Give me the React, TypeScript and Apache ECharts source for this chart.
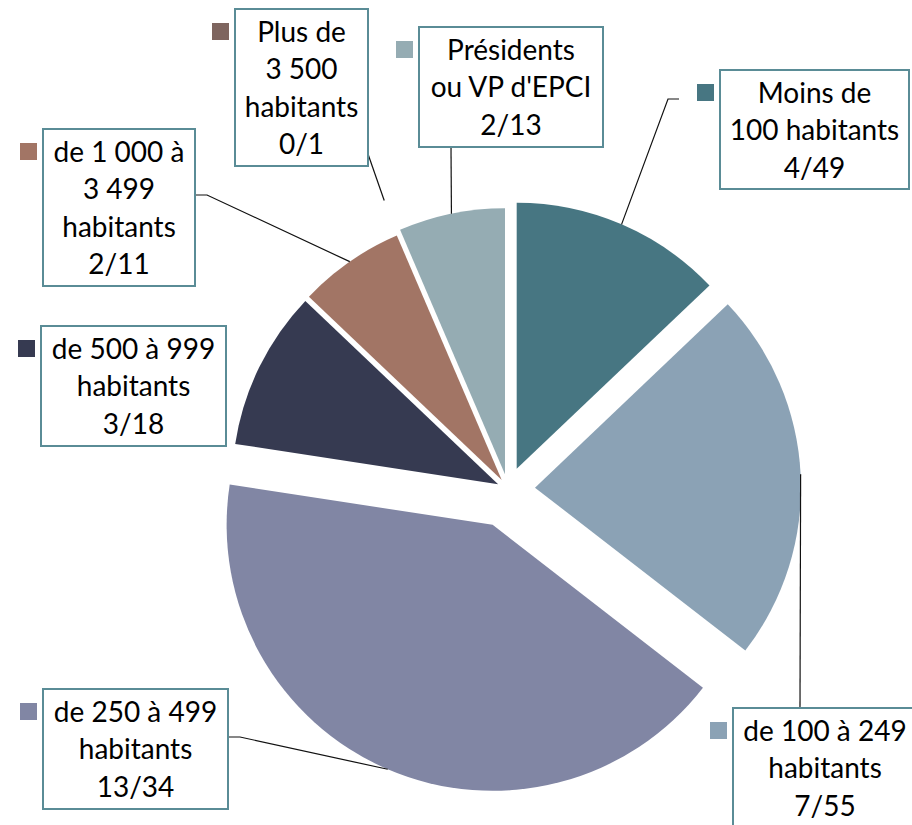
import React, { useEffect, useRef } from "react";
import * as echarts from "echarts";

// ---- data (clockwise from 12 o'clock) ----
const categories = [
  "Moins de\n100 habitants",
  "de 100 à 249\nhabitants",
  "de 250 à 499\nhabitants",
  "de 500 à 999\nhabitants",
  "de 1 000 à\n3 499\nhabitants",
  "Plus de\n3 500\nhabitants",
  "Présidents\nou VP d'EPCI",
];
const elected = [4, 7, 13, 3, 2, 0, 2];
const candidates = [49, 55, 34, 18, 11, 1, 13];

// ---- styles / layout ----
const colors = ["#477682", "#8BA2B5", "#8186A4", "#363A51", "#A27565", "#7E655F", "#95ACB3"];
const explode = [22, 27, 39, 11, 11, 0, 15];
const CX = 508;
const CY = 489;
const R = 266;
const FONT = "Lato, 'Open Sans', sans-serif";
const boxes = [
  { x: 720, y: 70, w: 189, h: 119, line: [[679, 99], [668, 99]], reach: 1 },
  { x: 733, y: 708, w: 184, h: 120, line: [[800, 708]], reach: 1 },
  { x: 43, y: 689, w: 185, h: 120, line: [[228, 737], [240, 737]], reach: 1 },
  { x: 41, y: 326, w: 185, h: 120, line: null, reach: 1 },
  { x: 43, y: 129, w: 152, h: 157, line: [[195, 195], [207, 195]], reach: 1 },
  { x: 235, y: 9, w: 133, h: 157, line: [[368, 154]], reach: 1.18 },
  { x: 419, y: 27, w: 184, h: 120, line: [[451, 147]], reach: 1 },
];

function buildOption() {
  const total = elected.reduce((a, b) => a + b, 0);
  let cum = 0;
  const series: any[] = [];
  const graphic: any[] = [];
  elected.forEach((v, i) => {
    const startDeg = (cum / total) * 360;
    const midDeg = ((cum + v / 2) / total) * 360;
    cum += v;
    const mid = (midDeg * Math.PI) / 180;
    const cx = CX + explode[i] * Math.sin(mid);
    const cy = CY - explode[i] * Math.cos(mid);
    series.push({
      type: "pie",
      center: [cx, cy],
      radius: R,
      startAngle: 90 - startDeg,
      clockwise: true,
      silent: true,
      avoidLabelOverlap: false,
      label: { show: false },
      labelLine: { show: false },
      emphasis: { disabled: true },
      itemStyle: { borderWidth: 0 },
      data: [
        { value: v, name: categories[i], itemStyle: { color: colors[i] } },
        { value: total - v, name: "_rest" + i, itemStyle: { color: "rgba(0,0,0,0)" } },
      ],
    });

    const b = boxes[i];
    if (b.line) {
      const rr = R * b.reach;
      const end = [cx + rr * Math.sin(mid), cy - rr * Math.cos(mid)];
      graphic.push({
        type: "polyline",
        z: 10,
        shape: { points: [...b.line, end] },
        style: { stroke: "#111", lineWidth: 1.2, fill: null },
      });
    }
    graphic.push({
      type: "rect",
      z: 11,
      shape: { x: b.x, y: b.y, width: b.w, height: b.h },
      style: { fill: "#fff", stroke: "#5A8C96", lineWidth: 2 },
    });
    graphic.push({
      type: "rect",
      z: 11,
      shape: { x: b.x - 23, y: b.y + 14, width: 17, height: 17 },
      style: { fill: colors[i] },
    });
    graphic.push({
      type: "text",
      z: 12,
      x: b.x + b.w / 2,
      y: b.y + 3,
      style: {
        text: categories[i] + "\n" + elected[i] + "/" + candidates[i],
        fontSize: 28,
        fontFamily: FONT,
        fill: "#000",
        align: "center",
        textAlign: "center",
        verticalAlign: "top",
        textVerticalAlign: "top",
        lineHeight: 37.5,
      },
    });
  });
  return { animation: false, backgroundColor: "#fff", series, graphic };
}

export default function App() {
  const ref = useRef<HTMLDivElement>(null);
  useEffect(() => {
    if (!ref.current) return;
    const chart = echarts.init(ref.current, undefined, { renderer: "svg" });
    chart.setOption(buildOption());
    return () => chart.dispose();
  }, []);
  return (
    <div
      ref={ref}
      style={{ position: "fixed", left: 0, top: 0, width: 912, height: 825, background: "#fff" }}
    />
  );
}
